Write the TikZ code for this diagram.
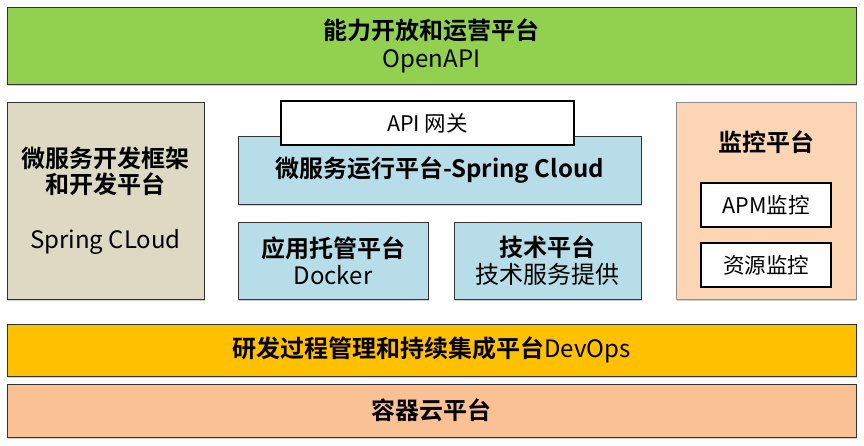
\documentclass[tikz,border=0pt]{standalone}
\usepackage{fontspec}
\setmainfont{Noto Sans CJK SC}[BoldFont={Noto Sans CJK SC Bold}]
\usetikzlibrary{shadows}
\definecolor{opengreen}{HTML}{92D050}
\definecolor{framebeige}{HTML}{DDD9C3}
\definecolor{runblue}{HTML}{B7DEE8}
\definecolor{monpeach}{HTML}{FCD5B5}
\definecolor{devyellow}{HTML}{FFC000}
\definecolor{cloudpeach}{HTML}{FAC195}
\tikzset{
  layer/.style={draw=black!80, line width=1pt, fill=#1, inner sep=0pt, align=center,
    drop shadow={shadow xshift=1pt, shadow yshift=-1.5pt, opacity=0.35},
    font=\fontsize{24}{29}\selectfont},
  tag/.style={draw=black, line width=2.5pt, fill=white, inner sep=0pt,
    font=\fontsize{21.5}{25}\selectfont}
}

\begin{document}
\begin{tikzpicture}[x=1pt, y=-1pt]
\useasboundingbox (0,0) rectangle (864,445);
% top layer
\node[layer=opengreen, minimum width=849pt, minimum height=77pt] (open) at (431.5,45.5)
  {\textbf{能力开放和运营平台}\\[-1pt]OpenAPI};
% middle row
\node[layer=framebeige, minimum width=197pt, minimum height=197pt] (frame) at (105.5,200.5)
  {\textbf{微服务开发框架}\\[-3pt]\textbf{和开发平台}\\[26pt]Spring CLoud};
\node[layer=runblue, minimum width=403pt, minimum height=68pt] (run) at (439.5,170)
  {\textbf{微服务运行平台-Spring Cloud}};
\node[tag, minimum width=293pt, minimum height=44pt] (gateway) at (427.5,123) {API 网关};
\node[layer=runblue, minimum width=190pt, minimum height=77pt] (host) at (333,260.5)
  {\textbf{应用托管平台}\\[-2pt]Docker};
\node[layer=runblue, minimum width=187pt, minimum height=77pt] (tech) at (547.5,260.5)
  {\textbf{技术平台}\\[-2pt]技术服务提供};
\node[layer=monpeach, draw=black!45, minimum width=180pt, minimum height=197pt] (mon) at (766,200.5) {};
\node[font=\fontsize{24}{29}\selectfont\bfseries] (montitle) at (766,142) {监控平台};
\node[tag, minimum width=130pt, minimum height=44pt] (apm) at (766,205) {APM监控};
\node[tag, minimum width=130pt, minimum height=44pt] (res) at (766,265) {资源监控};
% bottom layers
\node[layer=devyellow, minimum width=849pt, minimum height=52pt] (devops) at (431.5,350)
  {\textbf{研发过程管理和持续集成平台}DevOps};
\node[layer=cloudpeach, minimum width=849pt, minimum height=53pt] (cloud) at (431.5,410.5)
  {\textbf{容器云平台}};
\end{tikzpicture}
\end{document}
